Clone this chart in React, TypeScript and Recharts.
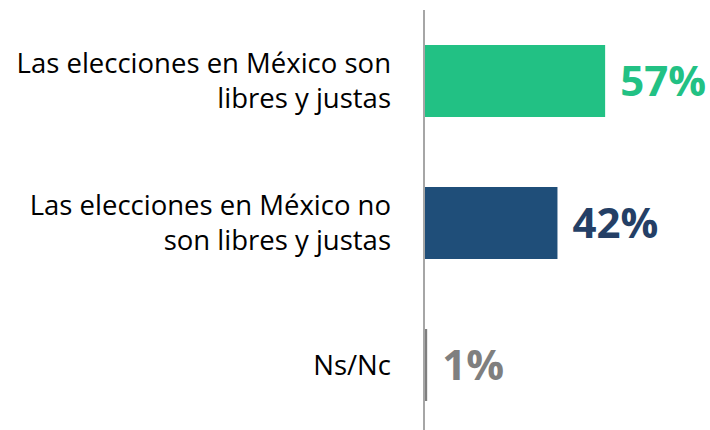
import { BarChart, Bar, XAxis, YAxis, Cell, LabelList } from 'recharts'

const categories = [
  'Las elecciones en México son libres y justas',
  'Las elecciones en México no son libres y justas',
  'Ns/Nc',
]
const tickLines = [
  ['Las elecciones en México son', 'libres y justas'],
  ['Las elecciones en México no', 'son libres y justas'],
  ['Ns/Nc'],
]
const values = [57, 42, 1]
const barColors = ['#22C184', '#1F4E79', '#7F7F7F']
const labelColors = ['#22C184', '#243F66', '#7F7F7F']

const data = categories.map((name, i) => ({ name, value: values[i] }))

const FONT = '"Open Sans", sans-serif'

function CategoryTick(props: any) {
  const { x, y, index } = props
  const lines = tickLines[index] || []
  const lineH = 35
  const start = -((lines.length - 1) * lineH) / 2
  return (
    <text x={x} y={y} textAnchor="end" fill="#000" fontFamily={FONT} fontSize={27.5}>
      {lines.map((l, i) => (
        <tspan key={i} x={x} y={y + start + i * lineH} dy="0.36em">
          {l}
        </tspan>
      ))}
    </text>
  )
}

function ValueLabel(props: any) {
  const { x, y, width, height, index, value } = props
  return (
    <text
      x={x + width + 15}
      y={y + height / 2}
      dy="0.36em"
      fill={labelColors[index]}
      fontFamily={FONT}
      fontWeight={700}
      fontSize={42}
    >
      {value}%
    </text>
  )
}

export default function App() {
  return (
    <div style={{ position: 'absolute', left: 0, top: 0, width: 710, height: 430, overflow: 'hidden', background: '#fff' }}>
      <BarChart
        width={710}
        height={436}
        data={data}
        layout="vertical"
        margin={{ top: 10, right: 0, bottom: 0, left: 0 }}
        barCategoryGap={35}
      >
        <XAxis type="number" domain={[0, 90]} hide />
        <YAxis
          type="category"
          dataKey="name"
          width={424}
          axisLine={{ stroke: '#A6A6A6', strokeWidth: 2 }}
          tickLine={false}
          tickMargin={27}
          tick={<CategoryTick />}
          interval={0}
        />
        <Bar dataKey="value" isAnimationActive={false}>
          {data.map((d, i) => (
            <Cell key={d.name} fill={barColors[i]} />
          ))}
          <LabelList dataKey="value" content={<ValueLabel />} />
        </Bar>
      </BarChart>
    </div>
  )
}
